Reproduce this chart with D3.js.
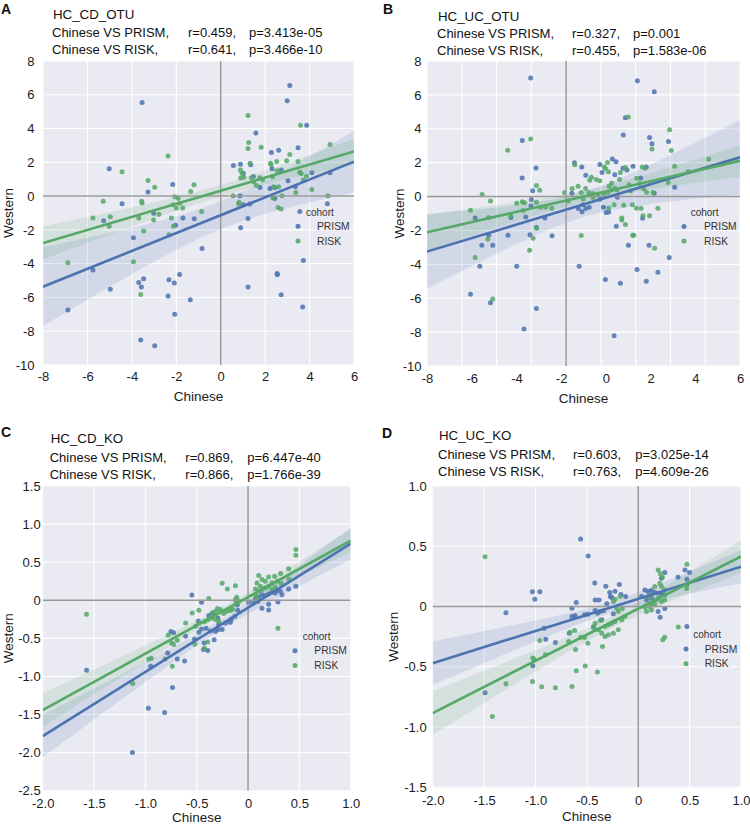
<!DOCTYPE html>
<html>
<head>
<meta charset="utf-8">
<script src="https://cdn.jsdelivr.net/npm/d3@7"></script>
<style>
  body { margin: 0; background: #fff; }
  text { font-family: "Liberation Sans", Arial, sans-serif; }
</style>
</head>
<body>
<svg id="vis" width="750" height="826"></svg>
<script>
// ---- data: [Chinese, Western] ----
var otuCdPrism = [[3.11,6.55],[2.99,5.64],[-3.54,5.54],[3.87,4.20],[1.58,3.73],[3.48,2.86],[2.28,2.58],[2.61,2.72],
  [-5.02,1.62],[0.57,1.81],[0.89,1.89],[1.02,1.36],[1.35,1.85],[2.31,1.62],[2.73,1.54],[4.10,1.38],[4.92,1.38],
  [1.47,1.16],[3.03,0.91],[-2.16,0.69],[1.77,0.51],[2.22,0.45],[2.43,0.51],[-3.27,0.24],[0.87,0.02],[3.36,0.55],
  [-4.44,-0.45],[-3.02,-1.01],[-1.70,-1.30],[-1.19,-1.34],[-2.03,-1.72],[-5.27,-1.46],[-3.93,-2.47],[-0.84,-3.10],
  [0.90,-1.87],[1.23,-1.32],[1.02,-0.51],[1.31,-0.47],[2.43,-0.14],[4.80,-0.45],[3.56,-0.91],[3.72,-3.81],
  [2.54,-4.58],[2.55,-4.65],[1.23,-5.38],[2.72,-5.84],[3.69,-6.57],[-5.75,-4.38],[-4.97,-5.52],[-3.69,-5.11],
  [-3.57,-5.38],[-3.47,-4.89],[-2.33,-4.95],[-2.09,-5.15],[-1.85,-4.64],[-2.37,-5.92],[-1.37,-6.13],[-2.07,-7.00],
  [-6.88,-6.75],[-3.60,-8.52],[-2.97,-8.86]];
var otuCdRisk = [[1.23,4.77],[3.59,4.20],[4.92,3.06],[1.26,3.18],[1.23,2.82],[1.82,2.90],[-2.37,2.37],[3.11,2.47],
  [2.97,2.09],[3.48,2.05],[2.52,2.05],[2.24,1.95],[2.27,1.85],[1.32,1.95],[0.89,1.54],[0.96,1.36],[1.04,1.12],
  [0.90,1.07],[1.38,1.08],[1.76,1.08],[1.61,0.63],[1.49,0.83],[1.89,0.97],[2.54,1.50],[2.33,1.16],[3.56,1.42],
  [3.62,1.34],[3.86,1.18],[3.72,0.95],[-4.44,1.44],[-3.27,0.93],[-2.97,0.53],[-1.20,0.67],[-1.35,0.28],
  [-3.56,-0.30],[-3.54,-0.41],[-5.29,-0.30],[-1.92,-0.12],[-2.07,-0.04],[-2.00,-0.71],[-1.71,-0.71],[-1.85,-0.43],
  [-2.15,-0.51],[-2.78,-1.08],[-3.02,-1.42],[-2.22,-1.30],[-4.97,-1.22],[-5.75,-1.30],[-5.02,-1.78],[-3.69,-1.30],
  [-2.13,-1.78],[-2.33,-2.29],[-3.47,-2.07],[-0.86,-0.91],[0.56,0.02],[0.83,-0.36],[0.80,-0.47],[2.37,0.55],
  [2.61,0.55],[2.76,0.02],[2.34,-0.10],[2.58,-0.67],[2.72,-0.77],[3.38,0.22],[4.10,0.39],[4.83,0.02],
  [-6.88,-3.94],[-3.93,-3.89],[-3.60,-5.82]];

var otuUcPrism = [[-2.04,6.99],[4.10,6.83],[5.07,6.18],[3.41,4.65],[3.29,3.64],[4.80,3.48],[4.94,3.11],[5.89,3.25],
  [-2.52,3.31],[-1.73,1.69],[-2.53,1.10],[-1.92,0.35],[0.48,1.99],[0.90,1.75],[1.94,1.89],[2.66,2.22],[2.87,2.05],
  [3.85,1.79],[4.61,1.75],[3.27,1.67],[3.50,1.56],[2.07,1.42],[2.80,1.28],[1.13,1.26],[4.29,1.10],[6.24,0.55],
  [0.33,0.20],[5.07,0.20],[-5.23,-1.26],[-4.45,-2.28],[-4.85,-2.87],[-4.22,-2.87],[-4.96,-4.11],[-2.84,-4.11],
  [-3.34,-2.28],[-3.17,-1.24],[-2.08,-2.26],[-1.71,-1.83],[-1.22,-1.26],[-0.81,-2.32],[-2.32,-1.20],[-2.02,-0.55],
  [-2.00,-0.18],[0.71,-0.71],[0.92,-0.89],[1.13,-0.71],[1.33,-0.63],[2.15,-0.63],[2.30,-0.94],[2.45,-0.91],
  [2.89,-1.75],[3.58,-2.87],[4.40,-1.28],[4.77,-2.87],[5.93,-3.60],[0.75,-4.11],[2.26,-4.90],[3.12,-5.12],
  [4.08,-4.31],[4.61,-5.00],[5.28,-4.47],[-5.50,-5.77],[-4.35,-6.26],[-1.71,-6.61],[-2.42,-7.81],[2.76,-8.21],
  [1.94,-0.16],[2.95,-0.04],[0.98,-0.49]];
var otuUcRisk = [[3.58,4.69],[5.95,3.94],[6.05,2.72],[4.94,2.80],[-2.04,3.39],[-3.36,2.74],[8.20,2.20],[6.24,1.79],
  [7.02,1.48],[5.87,0.83],[2.38,2.01],[2.19,1.75],[2.26,1.65],[2.43,1.46],[3.12,1.42],[3.41,1.71],[4.38,1.75],
  [4.54,1.67],[4.06,1.08],[1.46,1.14],[1.73,1.00],[1.94,0.94],[0.50,1.87],[1.36,0.96],[3.08,1.00],[2.62,0.79],
  [2.47,0.61],[2.80,0.49],[3.62,0.69],[4.23,0.77],[0.35,0.47],[0.69,0.61],[1.12,0.47],[0.87,0.24],[1.31,0.24],
  [1.55,0.16],[1.84,0.12],[2.17,0.16],[2.41,0.24],[2.61,0.39],[2.93,0.39],[-0.09,0.24],[3.70,0.33],[4.46,0.45],
  [4.63,0.26],[4.99,0.24],[-1.71,0.65],[-1.52,0.37],[-4.83,0.12],[-4.35,-0.26],[-2.84,-0.39],[-2.52,-0.31],
  [-2.40,-0.37],[-1.71,-0.33],[-1.48,-0.63],[-1.18,-0.63],[-0.83,-0.69],[-5.50,-0.81],[-4.46,-1.24],[-3.20,-1.12],
  [-2.48,-0.83],[-1.69,-1.87],[-1.90,-2.46],[-2.10,-3.17],[-4.50,-2.52],[-5.23,-3.60],[-4.22,-6.04],[0.87,-2.30],
  [2.45,-0.67],[2.76,-0.49],[3.31,-0.51],[3.81,-0.49],[4.04,-0.69],[4.31,-0.69],[5.28,-0.69],[3.20,-1.26],
  [3.20,-1.38],[3.41,-1.65],[4.42,-1.14],[4.80,-1.14],[3.83,-2.28],[3.89,-2.28],[5.09,-3.05],[0.12,-0.26],
  [0.98,-0.14],[1.55,-0.06]];

var koCdPrism = [[-0.547,0.070],[-0.453,-0.026],[-1.573,-0.918],[-1.126,-1.998],[-0.971,-1.417],[-0.812,-1.474],
  [-0.735,-1.146],[-0.783,-0.691],[-0.689,-0.770],[-0.618,-0.796],[-0.751,-0.411],[-0.725,-0.428],[-0.608,-0.472],
  [-0.521,-0.512],[-0.427,-0.560],[-0.392,-0.660],[-0.434,-0.647],[-0.330,-0.520],[-0.479,-0.420],[-0.453,-0.376],
  [-0.408,-0.367],[-0.485,-0.271],[-0.366,-0.402],[-0.317,-0.411],[-0.291,-0.385],[-0.252,-0.385],[-0.285,-0.319],
  [-0.220,-0.297],[-0.172,-0.289],[-0.162,-0.245],[-0.129,-0.210],[-0.100,-0.131],[-0.382,-0.201],[-0.343,-0.166],
  [-0.294,-0.232],[-0.104,-0.061],[0.006,-0.026],[0.055,-0.035],[0.136,-0.105],[0.201,-0.127],[0.201,-0.052],
  [0.291,-0.022],[0.071,0.017],[0.104,0.044],[0.136,0.074],[0.168,0.061],[0.201,0.087],[0.233,0.105],[0.265,0.096],
  [0.282,0.131],[0.314,0.118],[0.330,0.074],[0.395,0.149],[0.466,0.184],[0.097,-0.013],[-0.948,-0.866]];
var koCdRisk = [[-1.573,-0.184],[-1.123,-1.093],[0.466,0.665],[0.466,0.590],[0.395,0.415],[0.317,0.350],[0.259,0.315],
  [0.201,0.306],[0.104,0.324],[0.136,0.271],[0.168,0.249],[0.233,0.227],[0.285,0.249],[0.324,0.219],[0.398,0.280],
  [0.087,0.227],[0.120,0.184],[0.071,0.149],[0.104,0.118],[0.136,0.140],[0.168,0.162],[0.201,0.184],[0.233,0.140],
  [0.265,0.175],[0.071,0.074],[0.087,0.031],[0.291,-0.367],[-0.252,0.223],[-0.201,0.149],[-0.123,0.192],
  [-0.110,0.039],[-0.382,0.022],[-0.117,-0.035],[-0.479,-0.131],[-0.544,-0.166],[-0.608,-0.297],[-0.479,-0.297],
  [-0.421,-0.280],[-0.388,-0.254],[-0.350,-0.166],[-0.317,-0.144],[-0.298,-0.109],[-0.269,-0.122],[-0.236,-0.175],
  [-0.204,-0.144],[-0.172,-0.136],[-0.149,-0.118],[-0.350,-0.232],[-0.317,-0.254],[-0.285,-0.275],[-0.511,-0.341],
  [-0.689,-0.525],[-0.744,-0.560],[-0.777,-0.455],[-0.725,-0.582],[-0.518,-0.577],[-0.392,-0.547],[-0.424,-0.630],
  [-0.968,-0.774],[-0.942,-0.761],[-0.738,-0.866],[-0.809,-0.770],[-0.123,0.009],[-0.091,-0.013]];

var koUcPrism = [[-0.561,0.561],[-0.487,0.420],[-1.029,0.122],[-0.958,0.122],[-1.006,0.061],[-1.287,-0.052],
  [-0.423,0.196],[-0.316,0.169],[-0.184,0.182],[-0.277,0.116],[-0.226,0.127],[-0.271,0.083],[-0.258,0.075],
  [-0.168,0.099],[-0.123,0.083],[-0.419,0.055],[-0.381,0.055],[-0.306,0.022],[-0.603,0.033],[-0.645,-0.014],
  [-0.645,-0.083],[-0.613,-0.077],[-0.523,-0.069],[-0.490,-0.064],[-0.419,-0.033],[-0.371,-0.041],[-0.339,-0.036],
  [-0.242,-0.061],[-0.397,-0.055],[-0.355,-0.110],[-0.435,-0.171],[-0.671,-0.221],[-0.916,-0.180],[-0.900,-0.271],
  [-0.806,-0.298],[-1.026,-0.492],[-1.490,-0.715],[0.065,0.138],[0.097,0.124],[0.129,0.133],[0.161,0.116],
  [0.194,0.110],[0.226,0.105],[0.258,0.097],[0.129,0.069],[0.194,-0.041],[0.213,-0.088],[0.258,-0.017],
  [0.387,0.243],[0.455,0.304],[0.500,0.282],[0.474,0.227],[0.258,0.282],[0.226,0.235],[0.474,-0.166],
  [0.032,0.083],[0.081,0.055]];
var koUcRisk = [[-1.490,0.412],[-1.419,-0.912],[-1.287,-0.641],[-1.029,-0.622],[-0.939,-0.666],[-0.806,-0.674],
  [-0.645,-0.663],[-0.603,-0.533],[-0.516,-0.494],[-0.397,-0.544],[-1.026,-0.428],[-1.013,-0.439],[-0.958,-0.282],
  [-0.903,-0.401],[-0.677,-0.290],[-0.610,-0.356],[-0.665,-0.213],[-0.619,-0.199],[-0.558,-0.254],[-0.523,-0.257],
  [-0.490,-0.304],[-0.348,-0.331],[-0.435,-0.166],[-0.419,-0.138],[-0.371,-0.116],[-0.355,-0.221],[-0.323,-0.249],
  [-0.290,-0.235],[-0.242,-0.221],[-0.194,-0.193],[-0.161,-0.110],[-0.129,-0.083],[-0.194,-0.041],[-0.210,-0.014],
  [-0.155,-0.019],[-0.242,0.041],[-0.226,0.061],[-0.177,0.083],[-0.323,-0.166],[-0.387,-0.193],[-0.290,-0.152],
  [-0.258,-0.138],[-0.226,-0.124],[0.194,0.304],[0.216,0.271],[0.235,0.243],[0.474,0.351],[0.471,0.149],
  [0.477,0.182],[0.390,-0.169],[0.258,-0.254],[0.239,-0.276],[0.081,-0.041],[0.113,0.000],[0.129,0.028],
  [0.145,0.041],[0.161,0.014],[0.177,0.055],[0.194,0.069],[0.226,0.041],[0.258,0.055],[0.097,0.083],[0.129,0.097],
  [0.226,0.166],[0.258,0.138],[0.210,0.193],[0.161,0.166],[0.065,-0.006],[0.129,-0.028]];

// fitted lines: [intercept, slope]
var fitOtuCd = {PRISM: [-1.13, 0.529], RISK: [0.32, 0.387]};
var fitOtuUc = {PRISM: [-0.774, 0.309], RISK: [-0.234, 0.234]};
var fitKoCd = {PRISM: [-0.099, 0.842], RISK: [0.041, 0.742]};
var fitKoUc = {PRISM: [0.064, 0.267], RISK: [-0.018, 0.433]};

var cohorts = ['PRISM', 'RISK'];
var otuTicksX = [-8, -6, -4, -2, 0, 2, 4, 6];
var otuTicksY = [8, 6, 4, 2, 0, -2, -4, -6, -8, -10];
var koTicksX = [-2, -1.5, -1, -0.5, 0, 0.5, 1];
var koCdTicksY = [1.5, 1, 0.5, 0, -0.5, -1, -1.5, -2, -2.5];
var koUcTicksY = [1, 0.5, 0, -0.5, -1, -1.5];
var otuUcGridX = [-8, -6, -4, -2, 0, 2, 4, 6, 8, 10];

var headers = {
  A: ['HC_CD_OTU', ['Chinese VS PRISM,', 'r=0.459,', 'p=3.413e-05'], ['Chinese VS RISK,', 'r=0.641,', 'p=3.466e-10']],
  B: ['HC_UC_OTU', ['Chinese VS PRISM,', 'r=0.327,', 'p=0.001'], ['Chinese VS RISK,', 'r=0.455,', 'p=1.583e-06']],
  C: ['HC_CD_KO', ['Chinese VS PRISM,', 'r=0.869,', 'p=6.447e-40'], ['Chinese VS RISK,', 'r=0.866,', 'p=1.766e-39']],
  D: ['HC_UC_KO', ['Chinese VS PRISM,', 'r=0.603,', 'p=3.025e-14'], ['Chinese VS RISK,', 'r=0.763,', 'p=4.609e-26']]
};

var colors = {PRISM: '#4C72B0', RISK: '#55A868'};
var svg = d3.select('#vis');

var fmtInt = d => String(d).replace('\u2212', '-');
var fmtDec = d => d === 0 ? '0' : d.toFixed(1);

var panels = [
  {key: 'A', pts: {PRISM: otuCdPrism, RISK: otuCdRisk}, fit: fitOtuCd,
   box: [43, 354, 61, 365], xDom: [-8, 6], yDom: [-10, 8], gridX: otuTicksX, ticksX: otuTicksX, ticksY: otuTicksY,
   fmt: fmtInt, padY: 8.5, padX: 7, letter: [1, 14], head: [53, 188, 249, 19, 37.3, 54.3],
   yLab: 13, xLab: 400.5, legend: [306, 215.5, 298, 317]},
  {key: 'B', pts: {PRISM: otuUcPrism, RISK: otuUcRisk}, fit: fitOtuUc,
   box: [427, 740, 61, 366], xDom: [-8, 10], labDom: [-8, 6], yDom: [-10, 8], gridX: otuUcGridX, ticksX: otuTicksX, ticksY: otuTicksY,
   fmt: fmtInt, padY: 5.5, padX: 7.5, letter: [383, 14], head: [438, 572, 633, 20.5, 38.3, 55.3],
   yLab: 404, xLab: 402.5, legend: [690.7, 215.7, 684, 704]},
  {key: 'C', pts: {PRISM: koCdPrism, RISK: koCdRisk}, fit: fitKoCd,
   box: [42.7, 350.7, 486, 790.7], xDom: [-2, 1], yDom: [-2.5, 1.5], gridX: koTicksX, ticksX: koTicksX, ticksY: koCdTicksY,
   fmt: fmtDec, padY: 2, padX: 8, letter: [1, 437], head: [50.7, 185.3, 247.3, 443.3, 462.3, 479],
   yLab: 13, xLab: 822, legend: [302.7, 640, 295, 314.3]},
  {key: 'D', pts: {PRISM: koUcPrism, RISK: koUcRisk}, fit: fitKoUc,
   box: [432.7, 741, 486, 787.3], xDom: [-2, 1], yDom: [-1.5, 1], gridX: koTicksX, ticksX: koTicksX, ticksY: koUcTicksY,
   fmt: fmtDec, padY: 6, padX: 8.5, letter: [382, 438], head: [439, 573, 635.3, 440, 459, 475.7],
   yLab: 398, xLab: 820.5, legend: [693.3, 638.3, 686, 704.7]}
];

function ciBand(pts, fit, xs) {
  var n = pts.length,
      xbar = d3.mean(pts, d => d[0]),
      sxx = d3.sum(pts, d => (d[0] - xbar) * (d[0] - xbar)),
      sse = d3.sum(pts, d => Math.pow(d[1] - (fit[0] + fit[1] * d[0]), 2)),
      s = Math.sqrt(sse / (n - 2)),
      t = 1.98;
  return xs.map(function(x) {
    var yh = fit[0] + fit[1] * x,
        h = t * s * Math.sqrt(1 / n + (x - xbar) * (x - xbar) / sxx);
    return {x: x, lo: yh - h, hi: yh + h};
  });
}

panels.forEach(function(p) {
  var L = p.box[0], R = p.box[1], T = p.box[2], B = p.box[3];
  var x = d3.scaleLinear().domain(p.xDom).range([L, R]);
  var y = d3.scaleLinear().domain(p.yDom).range([B, T]);
  var xl = d3.scaleLinear().domain(p.labDom || p.xDom).range([L, R]);
  var g = svg.append('g');

  g.append('clipPath').attr('id', 'clip' + p.key)
    .append('rect').attr('x', L).attr('y', T).attr('width', R - L).attr('height', B - T);

  g.append('rect').attr('x', L).attr('y', T).attr('width', R - L).attr('height', B - T)
    .attr('fill', '#EAEAF2');

  var plot = g.append('g').attr('clip-path', 'url(#clip' + p.key + ')');

  plot.selectAll('.gx').data(p.gridX).enter().append('line')
    .attr('x1', d => x(d)).attr('x2', d => x(d)).attr('y1', T).attr('y2', B)
    .attr('stroke', '#fff').attr('stroke-width', 1.1);
  plot.selectAll('.gy').data(p.ticksY).enter().append('line')
    .attr('y1', d => y(d)).attr('y2', d => y(d)).attr('x1', L).attr('x2', R)
    .attr('stroke', '#fff').attr('stroke-width', 1.1);

  var xs = d3.range(0, 61).map(i => p.xDom[0] + (p.xDom[1] - p.xDom[0]) * i / 60);
  var area = d3.area().x(d => x(d.x)).y0(d => y(d.lo)).y1(d => y(d.hi));

  cohorts.forEach(function(c) {
    plot.append('g').selectAll('circle').data(p.pts[c]).enter().append('circle')
      .attr('cx', d => x(d[0])).attr('cy', d => y(d[1])).attr('r', 2.5)
      .attr('fill', colors[c]).attr('fill-opacity', 0.85);
    plot.append('path').datum(ciBand(p.pts[c], p.fit[c], xs))
      .attr('d', area).attr('fill', colors[c]).attr('fill-opacity', 0.15);
  });

  plot.append('line').attr('x1', x(0)).attr('x2', x(0)).attr('y1', T).attr('y2', B)
    .attr('stroke', '#999').attr('stroke-width', 1.5);
  plot.append('line').attr('x1', L).attr('x2', R).attr('y1', y(0)).attr('y2', y(0))
    .attr('stroke', '#999').attr('stroke-width', 1.5);

  cohorts.forEach(function(c) {
    var f = p.fit[c];
    plot.append('line')
      .attr('x1', x(p.xDom[0])).attr('y1', y(f[0] + f[1] * p.xDom[0]))
      .attr('x2', x(p.xDom[1])).attr('y2', y(f[0] + f[1] * p.xDom[1]))
      .attr('stroke', colors[c]).attr('stroke-width', 2.6);
  });

  // axes
  var ay = g.append('g').attr('transform', 'translate(' + L + ',0)')
    .call(d3.axisLeft(y).tickValues(p.ticksY).tickFormat(p.fmt).tickSize(0).tickPadding(p.padY));
  var ax = g.append('g').attr('transform', 'translate(0,' + B + ')')
    .call(d3.axisBottom(xl).tickValues(p.ticksX).tickFormat(p.fmt).tickSize(0).tickPadding(p.padX));
  [ax, ay].forEach(function(a) {
    a.select('.domain').remove();
    a.selectAll('text').attr('font-size', 13).attr('fill', '#1a1a1a')
      .attr('font-family', '"Liberation Sans", Arial, sans-serif');
  });

  g.append('text').attr('x', (L + R) / 2).attr('y', p.xLab).attr('text-anchor', 'middle')
    .attr('font-size', 13.5).attr('fill', '#1a1a1a').text('Chinese');
  g.append('text').attr('transform', 'translate(' + p.yLab + ',' + (T + B) / 2 + ') rotate(-90)')
    .attr('text-anchor', 'middle').attr('font-size', 13.5).attr('fill', '#1a1a1a').text('Western');

  // header
  var h = headers[p.key], hp = p.head;
  g.append('text').attr('x', p.letter[0]).attr('y', p.letter[1])
    .attr('font-size', 14).attr('font-weight', 'bold').attr('fill', '#111').text(p.key);
  g.append('text').attr('x', hp[0]).attr('y', hp[3]).attr('font-size', 13.3).attr('fill', '#111').text(h[0]);
  [h[1], h[2]].forEach(function(row, i) {
    var yy = hp[4 + i];
    g.append('text').attr('x', hp[0] - 1).attr('y', yy).attr('font-size', 13).attr('fill', '#111').text(row[0]);
    g.append('text').attr('x', hp[1]).attr('y', yy).attr('font-size', 13).attr('fill', '#111').text(row[1]);
    g.append('text').attr('x', hp[2]).attr('y', yy).attr('font-size', 13).attr('fill', '#111').text(row[2]);
  });

  // legend
  var lg = p.legend;
  g.append('text').attr('x', lg[0]).attr('y', lg[1]).attr('font-size', 10).attr('fill', '#333').text('cohort');
  cohorts.forEach(function(c, i) {
    var cy = lg[1] + 10.8 + i * 14.6;
    g.append('circle').attr('cx', lg[2]).attr('cy', cy).attr('r', 2.5)
      .attr('fill', colors[c]).attr('fill-opacity', 0.9);
    g.append('text').attr('x', lg[3]).attr('y', cy + 3.6).attr('font-size', 10.3).attr('fill', '#333').text(c);
  });
});
</script>
</body>
</html>
